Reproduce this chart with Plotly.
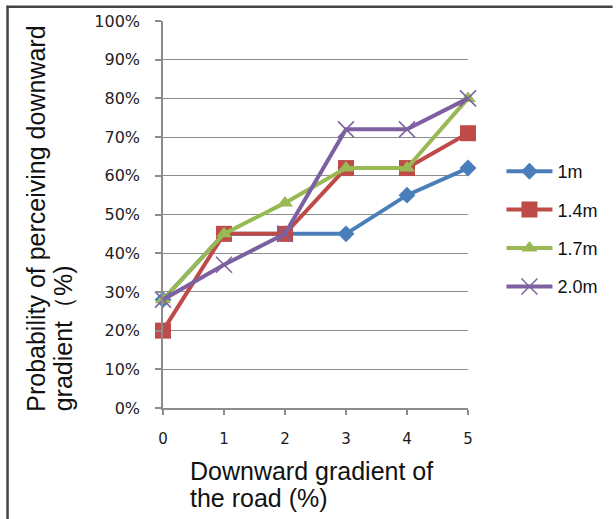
import plotly.graph_objects as go

# Downward gradient of the road (%)
gradient = [0, 1, 2, 3, 4, 5]

# Probability of perceiving the downward gradient (%) per eye height
p_1m = [28, 45, 45, 45, 55, 62]
p_14m = [20, 45, 45, 62, 62, 71]
p_17m = [28, 45, 53, 62, 62, 80]
p_20m = [28, 37, 45, 72, 72, 80]

series_names = ["1m", "1.4m", "1.7m", "2.0m"]
series_values = [p_1m, p_14m, p_17m, p_20m]

y_ticks = list(range(0, 101, 10))
y_tick_labels = [f"{v}%" for v in y_ticks]
x_ticks = gradient
x_tick_labels = [str(v) for v in gradient]

W, H = 616, 519
# plot-area edges in pixels
L, R, T, B = 163, 473, 19.3, 408.3


def px(x):
    return (x - L) / (R - L)


def py(y):
    return (B - y) / (B - T)


colors = ["#4A7EBB", "#BE4B48", "#98B954", "#7D60A0"]
symbols = ["diamond", "square", "triangle-up", "x-thin"]
sizes = [13, 16, 14, 16]

fig = go.Figure()
for name, vals, c, s, sz in zip(series_names, series_values, colors, symbols, sizes):
    marker = dict(symbol=s, size=sz, color=c)
    if s == "x-thin":
        marker["line"] = dict(color=c, width=1.5)
    else:
        marker["line"] = dict(width=0)
    fig.add_trace(go.Scatter(
        x=gradient, y=vals, name=name, legendgroup=name,
        mode="lines+markers",
        line=dict(color=c, width=4),
        marker=marker,
        cliponaxis=False,
    ))

grid = "#8c8c8c"
tick_font = dict(family="DejaVu Sans", size=15, color="#1a1a1a")
title_font = dict(family="Liberation Sans, Arial", size=25, color="#111111")

fig.update_layout(
    width=W, height=H,
    margin=dict(l=L, r=W - R, t=T, b=H - B, pad=0),
    paper_bgcolor="white", plot_bgcolor="white",
    showlegend=True,
    legend=dict(
        x=px(507), xanchor="left", y=py(152), yanchor="top",
        font=dict(family="Liberation Sans, Arial", size=18, color="#111111"),
        bgcolor="rgba(0,0,0,0)", traceorder="grouped", tracegroupgap=12,
        itemwidth=46,
    ),
    xaxis=dict(
        range=[0, 5], tickmode="array", tickvals=x_ticks, ticktext=x_tick_labels,
        showgrid=False, zeroline=False,
        showline=True, linecolor=grid, linewidth=1.5,
        ticks="outside", ticklen=5, tickwidth=1.5, tickcolor=grid,
        tickfont=tick_font, ticklabelstandoff=11,
    ),
    yaxis=dict(
        range=[0, 100], tickmode="array", tickvals=y_ticks, ticktext=y_tick_labels,
        showgrid=True, gridcolor=grid, gridwidth=1.4, zeroline=False,
        showline=True, linecolor=grid, linewidth=1.5,
        ticks="outside", ticklen=6, tickwidth=1.5, tickcolor=grid,
        tickfont=dict(family="DejaVu Sans", size=16, color="#222222"),
        ticklabelstandoff=12,
    ),
    shapes=[
        # outer frame (top and left edges)
        dict(type="line", xref="paper", yref="paper",
             x0=px(4), x1=px(620), y0=py(5), y1=py(5),
             line=dict(color="#444444", width=2.5)),
        dict(type="line", xref="paper", yref="paper",
             x0=px(5), x1=px(5), y0=py(4), y1=py(525),
             line=dict(color="#444444", width=2.5)),
    ],
    annotations=[
        dict(text="Probability of perceiving downward", textangle=-90,
             xref="paper", yref="paper", x=px(34), y=py(414),
             xanchor="center", yanchor="bottom", showarrow=False, font=title_font),
        dict(text="gradient（%)", textangle=-90,
             xref="paper", yref="paper", x=px(61), y=py(414),
             xanchor="center", yanchor="bottom", showarrow=False, font=title_font),
        dict(text="Downward gradient of",
             xref="paper", yref="paper", x=px(188), y=py(472),
             xanchor="left", yanchor="middle", showarrow=False, font=title_font),
        dict(text="the road (%)",
             xref="paper", yref="paper", x=px(188), y=py(499),
             xanchor="left", yanchor="middle", showarrow=False, font=title_font),
    ],
)

fig.write_html("out.html")
